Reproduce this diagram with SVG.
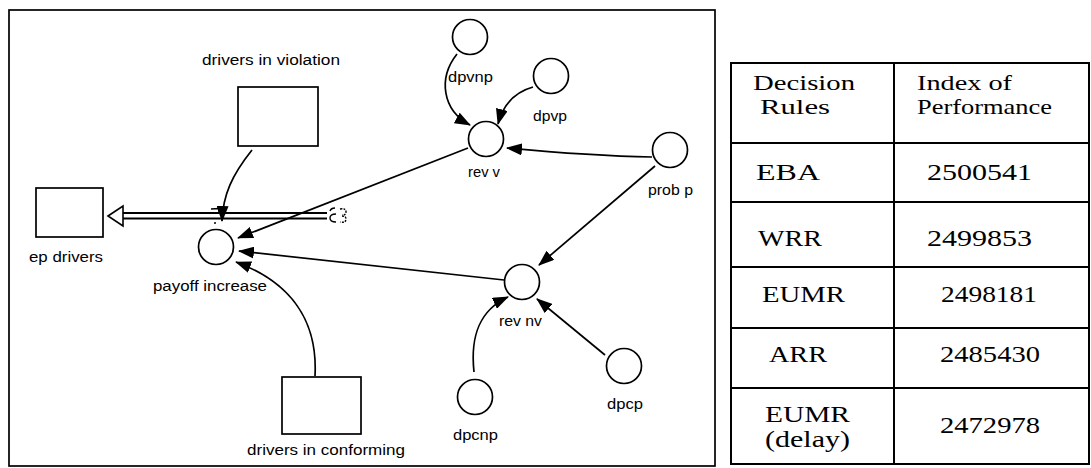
<svg xmlns="http://www.w3.org/2000/svg" width="1091" height="468" viewBox="0 0 1091 468">
<style>
.n{fill:#fff;stroke:#000;stroke-width:1.7}
.l{font-family:"Liberation Sans",Arial,sans-serif;font-size:14px;fill:#000}
.c{fill:none;stroke:#000;stroke-width:1.7}
.t{font-family:"Liberation Serif","Times New Roman",serif;font-size:23px;fill:#000}
.h{font-family:"Liberation Serif","Times New Roman",serif;font-size:21px;fill:#000}
.g{stroke:#000;stroke-width:2;fill:none}
</style>
<defs>
<marker id="ah" viewBox="0 0 16 12" refX="15" refY="6" markerWidth="16" markerHeight="12" orient="auto" markerUnits="userSpaceOnUse"><path d="M0,0 L16,6 L0,12 z" fill="#000"/></marker>
</defs>
<rect width="1091" height="468" fill="#fff"/>
<rect x="9" y="10" width="706" height="456" fill="none" stroke="#000" stroke-width="1.7"/>

<g id="connectors">
<path class="c" d="M252,150 C232,175 223,195 222,221" marker-end="url(#ah)"/>
<path class="c" d="M468,148 L238,238" marker-end="url(#ah)"/>
<path class="c" d="M504,280 L239,251" marker-end="url(#ah)"/>
<path class="c" d="M315,376 C318,320 290,282 236,262" marker-end="url(#ah)"/>
<path class="c" d="M457,54 C438,78 442,110 470,125" marker-end="url(#ah)"/>
<path class="c" d="M533,87 C515,92 503,105 498,124" marker-end="url(#ah)"/>
<path class="c" d="M652,157 C600,156 550,152 507,148" marker-end="url(#ah)"/>
<path class="c" d="M655,166 L539,265" marker-end="url(#ah)"/>
<path class="c" d="M474,372 C470,335 480,310 508,297" marker-end="url(#ah)"/>
<path class="c" d="M605,355 L537,299" marker-end="url(#ah)"/>
</g>

<g id="flow">
<line x1="121" y1="213" x2="327" y2="213" stroke="#000" stroke-width="1.8"/>
<line x1="121" y1="218.5" x2="327" y2="218.5" stroke="#000" stroke-width="1.8"/>
<polygon points="108,216 123,206 123,226" fill="#fff" stroke="#000" stroke-width="1.6"/>
<path d="M211,209 L227,208 M219,209 L219,213" stroke="#000" stroke-width="1.6" fill="none"/>
<circle cx="215" cy="223" r="1" fill="#000"/>
<path d="M335,208 Q331,208 330,211 M336,214 Q330,214 330,218 Q330,222 336,222" stroke="#000" stroke-width="1.4" fill="none"/>
<path d="M340,209 Q346,208 346,212 Q346,215 342,215 M342,216 Q346,216 346,219 Q346,223 340,222" stroke="#000" stroke-width="1.4" fill="none" stroke-dasharray="2,1.2"/>
</g>

<g id="ep_drivers"><rect class="n" x="36" y="188" width="67" height="49"/><text class="l" x="29" y="262" textLength="74" lengthAdjust="spacingAndGlyphs">ep drivers</text></g>
<g id="drivers_in_violation"><rect class="n" x="238" y="87" width="80" height="59"/><text class="l" x="202" y="65" textLength="138" lengthAdjust="spacingAndGlyphs">drivers in violation</text></g>
<g id="drivers_in_conforming"><rect class="n" x="282" y="377" width="79" height="57"/><text class="l" x="247" y="455" textLength="158" lengthAdjust="spacingAndGlyphs">drivers in conforming</text></g>
<g id="payoff_increase"><circle class="n" cx="216" cy="247" r="17.5"/><text class="l" x="153" y="291" textLength="114" lengthAdjust="spacingAndGlyphs">payoff increase</text></g>
<g id="rev_v"><circle class="n" cx="486" cy="139" r="17.5"/><text class="l" x="468" y="177" textLength="32" lengthAdjust="spacingAndGlyphs">rev v</text></g>
<g id="dpvnp"><circle class="n" cx="470" cy="37" r="17.5"/><text class="l" x="448" y="82" textLength="45" lengthAdjust="spacingAndGlyphs">dpvnp</text></g>
<g id="dpvp"><circle class="n" cx="551" cy="76" r="17.5"/><text class="l" x="533" y="121" textLength="34" lengthAdjust="spacingAndGlyphs">dpvp</text></g>
<g id="prob_p"><circle class="n" cx="670" cy="150" r="17.5"/><text class="l" x="648" y="195" textLength="45" lengthAdjust="spacingAndGlyphs">prob p</text></g>
<g id="rev_nv"><circle class="n" cx="522" cy="282" r="17.5"/><text class="l" x="499" y="326" textLength="43" lengthAdjust="spacingAndGlyphs">rev nv</text></g>
<g id="dpcnp"><circle class="n" cx="475" cy="397" r="17.5"/><text class="l" x="453" y="440" textLength="45" lengthAdjust="spacingAndGlyphs">dpcnp</text></g>
<g id="dpcp"><circle class="n" cx="624" cy="366" r="17.5"/><text class="l" x="607" y="409" textLength="36" lengthAdjust="spacingAndGlyphs">dpcp</text></g>

<g id="table">
<rect class="g" x="731" y="63" width="358" height="401"/>
<line class="g" x1="894" y1="63" x2="894" y2="464"/>
<line class="g" x1="731" y1="143" x2="1089" y2="143"/>
<line class="g" x1="731" y1="202" x2="1089" y2="202"/>
<line class="g" x1="731" y1="267" x2="1089" y2="267"/>
<line class="g" x1="731" y1="328" x2="1089" y2="328"/>
<line class="g" x1="731" y1="388" x2="1089" y2="388"/>
<text class="h" x="753" y="90" textLength="102" lengthAdjust="spacingAndGlyphs">Decision</text>
<text class="h" x="760" y="114" textLength="70" lengthAdjust="spacingAndGlyphs">Rules</text>
<text class="h" x="917" y="90" textLength="95" lengthAdjust="spacingAndGlyphs">Index of</text>
<text class="h" x="917" y="114" textLength="135" lengthAdjust="spacingAndGlyphs">Performance</text>
<text class="t" x="756" y="180" textLength="64" lengthAdjust="spacingAndGlyphs">EBA</text>
<text class="t" x="927" y="180" textLength="105" lengthAdjust="spacingAndGlyphs">2500541</text>
<text class="t" x="758" y="246" textLength="64" lengthAdjust="spacingAndGlyphs">WRR</text>
<text class="t" x="927" y="246" textLength="105" lengthAdjust="spacingAndGlyphs">2499853</text>
<text class="t" x="762" y="302" textLength="83" lengthAdjust="spacingAndGlyphs">EUMR</text>
<text class="t" x="941" y="302" textLength="96" lengthAdjust="spacingAndGlyphs">2498181</text>
<text class="t" x="769" y="362" textLength="58" lengthAdjust="spacingAndGlyphs">ARR</text>
<text class="t" x="940" y="362" textLength="100" lengthAdjust="spacingAndGlyphs">2485430</text>
<text class="t" x="765" y="422" textLength="85" lengthAdjust="spacingAndGlyphs">EUMR</text>
<text class="t" x="765" y="447" textLength="85" lengthAdjust="spacingAndGlyphs">(delay)</text>
<text class="t" x="940" y="433" textLength="100" lengthAdjust="spacingAndGlyphs">2472978</text>
</g>
</svg>
